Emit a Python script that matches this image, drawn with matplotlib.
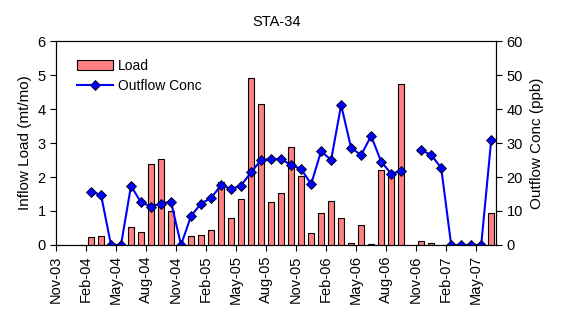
import numpy as np
import matplotlib.pyplot as plt

plt.rcParams['font.family'] = ['Liberation Sans', 'DejaVu Sans']
plt.rcParams['font.size'] = 10

months = ['Nov-03', 'Dec-03', 'Jan-04', 'Feb-04', 'Mar-04', 'Apr-04', 'May-04', 'Jun-04',
          'Jul-04', 'Aug-04', 'Sep-04', 'Oct-04', 'Nov-04', 'Dec-04', 'Jan-05', 'Feb-05',
          'Mar-05', 'Apr-05', 'May-05', 'Jun-05', 'Jul-05', 'Aug-05', 'Sep-05', 'Oct-05',
          'Nov-05', 'Dec-05', 'Jan-06', 'Feb-06', 'Mar-06', 'Apr-06', 'May-06', 'Jun-06',
          'Jul-06', 'Aug-06', 'Sep-06', 'Oct-06', 'Nov-06', 'Dec-06', 'Jan-07', 'Feb-07',
          'Mar-07', 'Apr-07', 'May-07', 'Jun-07']

# inflow load, mt/mo
load = [0, 0, 0, 0.24, 0.26, 0, 0, 0.53,
        0.39, 2.38, 2.53, 1.0, 0, 0.26, 0.29, 0.44,
        1.85, 0.79, 1.35, 4.91, 4.15, 1.26, 1.53, 2.88,
        2.04, 0.35, 0.94, 1.29, 0.79, 0.06, 0.59, 0.03,
        2.2, 2.1, 4.75, 0, 0.12, 0.06, 0, 0,
        0, 0, 0, 0.94]

# outflow concentration, ppb (nan = no sample)
conc = [np.nan, np.nan, np.nan, 15.6, 14.8, 0, 0, 17.4,
        12.5, 11.3, 12.2, 12.7, 0, 8.5, 12.2, 13.8,
        17.6, 16.5, 17.5, 21.4, 25.0, 25.3, 25.3, 23.5,
        22.4, 17.9, 27.6, 25.0, 41.2, 28.5, 26.5, 32.1,
        24.5, 21.0, 21.7, np.nan, 27.9, 26.5, 22.7, 0,
        0, 0, 0, 30.9]

x = np.arange(len(months)) + 0.5

fig = plt.figure(figsize=(5.77, 3.24), dpi=100)
ax = fig.add_axes([0.097, 0.244, 0.763, 0.629])
ax2 = ax.twinx()

bars = ax.bar(x, load, width=0.6, color='#FF8080', edgecolor='black', linewidth=0.8,
              label='Load')
line, = ax2.plot(x, conc, color='#0000FF', linewidth=1.5, marker='D', markersize=5.5,
                 markerfacecolor='#0000FF', markeredgecolor='black', markeredgewidth=0.6,
                 label='Outflow Conc')

ax.set_xlim(0, len(months))
ax.set_ylim(0, 6)
ax2.set_ylim(0, 60)
ax.set_yticks(range(0, 7))
ax2.set_yticks(range(0, 61, 10))

tick_pos = np.arange(0, len(months), 3)
ax.set_xticks(tick_pos)
ax.set_xticklabels([months[i] for i in tick_pos], rotation=90)

ax.set_ylabel('Inflow Load (mt/mo)', fontsize=11, labelpad=4)
ax2.set_ylabel('Outflow Conc (ppb)', fontsize=11, labelpad=5)
ax.set_title('STA-34', fontsize=10.5, pad=11)

for a in (ax, ax2):
    a.tick_params(direction='out', length=4, width=0.8, labelsize=10.5)
    for s in a.spines.values():
        s.set_linewidth(0.8)

ax.legend([bars, line], ['Load', 'Outflow Conc'], loc='upper left', frameon=False,
          bbox_to_anchor=(0.02, 0.975), handlelength=2.6, handletextpad=0.3,
          labelspacing=0.45, fontsize=10)

fig.savefig('out.png', dpi=100)
